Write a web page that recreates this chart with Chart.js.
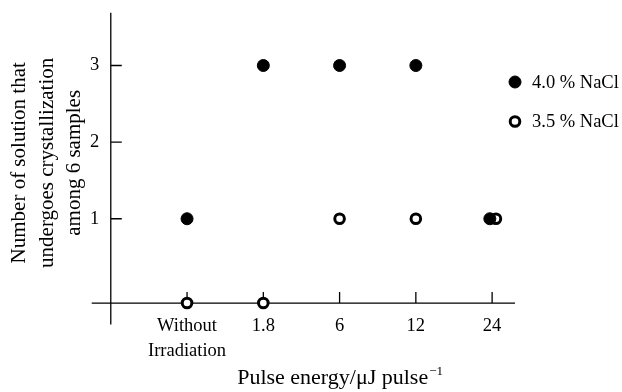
<!DOCTYPE html>
<html>
<head>
<meta charset="utf-8">
<script src="https://cdn.jsdelivr.net/npm/chart.js@4"></script>
<style>
  html, body { margin: 0; padding: 0; background: #fff; }
</style>
</head>
<body>
<canvas id="myChart" width="622" height="392"></canvas>
<script>
// categories sit at 0..4 on a linear x axis
const xLabels = [['Without', 'Irradiation'], '1.8', '6', '12', '24'];
const xTicks = [0, 1, 2, 3, 4];
const yTicks = [1, 2, 3];

// 4.0 % NaCl (filled)
const nacl40X = [0, 1, 2, 3, 3.97];
const nacl40Y = [1, 3, 3, 3, 1];

// 3.5 % NaCl (open) - the zero points sit on the x axis line
const nacl35X = [0, 1, 2, 3, 4.05];
const nacl35Y = [-0.1, -0.1, 1, 1, 1];

const yTitle = ['Number of solution that', 'undergoes crystallization', 'among 6 samples'];
const xTitle = 'Pulse energy/\u03BCJ pulse';
const xTitleSup = '\u22121';

const serif = "'Liberation Serif', 'Times New Roman', serif";

const toPoints = (xs, ys) => xs.map((v, i) => ({x: v, y: ys[i]}));

// axis lines with inward ticks, drawn under the points
const axesPlugin = {
  id: 'axesPlugin',
  beforeDatasetsDraw(chart) {
    const {ctx, scales: {x, y}} = chart;
    const yAxisX = x.getPixelForValue(-1);
    const xAxisY = y.getPixelForValue(-0.1);
    ctx.save();
    ctx.strokeStyle = '#000';
    ctx.lineWidth = 1.3;
    ctx.beginPath();
    ctx.moveTo(x.getPixelForValue(-1.25), xAxisY);
    ctx.lineTo(x.getPixelForValue(4.3), xAxisY);
    ctx.moveTo(yAxisX, y.getPixelForValue(3.69));
    ctx.lineTo(yAxisX, y.getPixelForValue(-0.38));
    xTicks.forEach(v => {
      const px = x.getPixelForValue(v);
      ctx.moveTo(px, xAxisY);
      ctx.lineTo(px, xAxisY - 11);
    });
    yTicks.forEach(v => {
      const py = y.getPixelForValue(v);
      ctx.moveTo(yAxisX, py);
      ctx.lineTo(yAxisX + 11, py);
    });
    ctx.stroke();
    ctx.restore();
  },
  afterDraw(chart) {
    const {ctx, scales: {x}} = chart;
    ctx.save();
    ctx.fillStyle = '#000';
    ctx.textBaseline = 'alphabetic';
    // x axis title with superscript, centred over the category ticks
    ctx.font = '22px ' + serif;
    const w1 = ctx.measureText(xTitle).width;
    ctx.font = '13px ' + serif;
    const w2 = ctx.measureText(xTitleSup).width;
    const cx = (x.getPixelForValue(xTicks[0]) + x.getPixelForValue(xTicks[xTicks.length - 1])) / 2;
    const start = cx - (w1 + w2) / 2;
    ctx.font = '22px ' + serif;
    ctx.fillText(xTitle, start, 384);
    ctx.font = '13px ' + serif;
    ctx.fillText(xTitleSup, start + w1 + 1, 375);

    // legend on the right
    ctx.font = '18.5px ' + serif;
    ctx.textBaseline = 'middle';
    chart.data.datasets.forEach((ds, i) => {
      const ly = 82 + i * 39.5;
      ctx.beginPath();
      ctx.arc(515, ly, ds.pointRadius, 0, Math.PI * 2);
      ctx.fillStyle = ds.backgroundColor;
      ctx.fill();
      ctx.lineWidth = ds.borderWidth;
      ctx.strokeStyle = ds.borderColor;
      ctx.stroke();
      ctx.fillStyle = '#000';
      ctx.fillText(ds.label, 532, ly + 1);
    });
    ctx.restore();
  }
};

const ctx = document.getElementById('myChart').getContext('2d');
const myChart = new Chart(ctx, {
  type: 'scatter',
  data: {
    datasets: [{
      label: '4.0 % NaCl',
      data: toPoints(nacl40X, nacl40Y),
      backgroundColor: '#000',
      borderColor: '#000',
      borderWidth: 1,
      pointRadius: 6,
      pointHoverRadius: 6
    }, {
      label: '3.5 % NaCl',
      data: toPoints(nacl35X, nacl35Y),
      backgroundColor: '#fff',
      borderColor: '#000',
      borderWidth: 3,
      pointRadius: 4.8,
      pointHoverRadius: 4.8
    }]
  },
  options: {
    responsive: false,
    animation: false,
    layout: { padding: { top: 0, right: 107, bottom: 17, left: 0 } },
    plugins: {
      legend: { display: false },
      tooltip: { enabled: false }
    },
    datasets: { scatter: { clip: false } },
    scales: {
      x: {
        type: 'linear',
        min: -1,
        max: 4.3,
        grid: { display: false, drawTicks: false },
        border: { display: false },
        afterBuildTicks: scale => { scale.ticks = xTicks.map(v => ({value: v})); },
        ticks: {
          autoSkip: false,
          maxRotation: 0,
          padding: 11,
          color: '#000',
          font: { family: serif, size: 18.5, lineHeight: 1.35 },
          callback: value => xLabels[xTicks.indexOf(value)]
        }
      },
      y: {
        min: -0.1,
        max: 3.56,
        grid: { display: false, drawTicks: false },
        border: { display: false },
        afterBuildTicks: scale => { scale.ticks = yTicks.map(v => ({value: v})); },
        ticks: {
          padding: 11.5,
          color: '#000',
          font: { family: serif, size: 18.5 }
        },
        title: {
          display: true,
          text: yTitle,
          color: '#000',
          font: { family: serif, size: 21, lineHeight: 1.31 },
          padding: { top: 6, bottom: -10 }
        }
      }
    }
  },
  plugins: [axesPlugin]
});
</script>
</body>
</html>
